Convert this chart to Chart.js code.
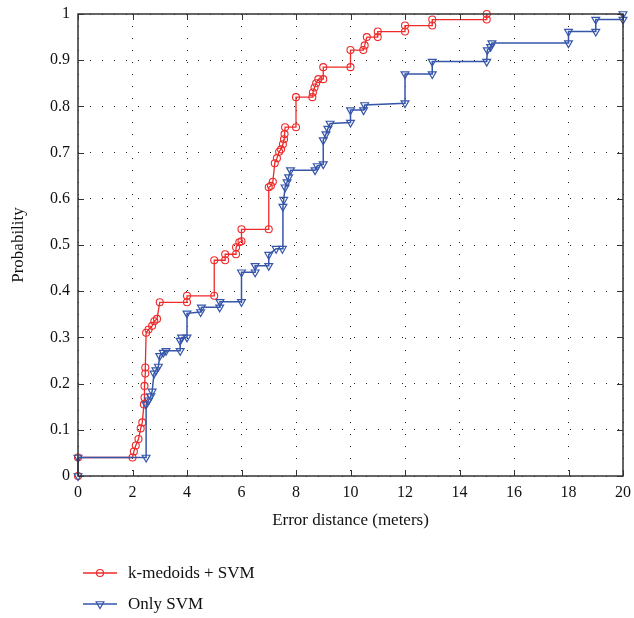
<!DOCTYPE html>
<html lang="en">
<head>
  <meta charset="UTF-8">
  <title>Error distance CDF</title>
  <script src="https://cdn.jsdelivr.net/npm/chart.js"></script>
  <style>
    html, body { margin: 0; padding: 0; background: #fff; }
    #wrap { width: 634px; height: 618px; }
  </style>
</head>
<body>
  <div id="wrap"><canvas id="cdfChart" width="634" height="618"></canvas></div>

  <script>
    // axis ticks
    const xTicks = [0, 2, 4, 6, 8, 10, 12, 14, 16, 18, 20];
    const yTicks = [0, 0.1, 0.2, 0.3, 0.4, 0.5, 0.6, 0.7, 0.8, 0.9, 1];
    const yTickLabels = ['0', '0.1', '0.2', '0.3', '0.4', '0.5', '0.6', '0.7', '0.8', '0.9', '1'];

    const seriesNames = ['k-medoids + SVM', 'Only SVM'];

    // k-medoids + SVM (staircase vertices)
    const kmX = [0, 0, 2, 2.05, 2.12, 2.22, 2.3, 2.36, 2.42, 2.44, 2.44, 2.47, 2.47, 2.5, 2.59, 2.72, 2.8, 2.9, 3,
      4, 4, 5, 5, 5.4, 5.4, 5.8, 5.8, 5.92, 6, 6, 7, 7, 7.08, 7.15, 7.22, 7.3, 7.38, 7.45, 7.52, 7.56, 7.58, 7.6,
      8, 8, 8.6, 8.62, 8.68, 8.74, 8.82, 9, 9, 10, 10, 10.47, 10.52, 10.6, 11, 11, 12, 12, 13, 13, 15, 15];
    const kmY = [0, 0.04, 0.04, 0.053, 0.066, 0.08, 0.103, 0.116, 0.155, 0.17, 0.195, 0.222, 0.235, 0.31, 0.317, 0.325, 0.335, 0.34, 0.376,
      0.376, 0.39, 0.39, 0.467, 0.467, 0.48, 0.48, 0.495, 0.506, 0.508, 0.534, 0.534, 0.625, 0.628, 0.637, 0.677, 0.688, 0.702, 0.707, 0.718, 0.729, 0.74, 0.755,
      0.755, 0.82, 0.82, 0.83, 0.841, 0.85, 0.859, 0.859, 0.885, 0.885, 0.922, 0.922, 0.932, 0.95, 0.95, 0.962, 0.962, 0.975, 0.975, 0.988, 0.988, 1.0];

    // Only SVM
    const svmX = [0, 0, 2.5, 2.5, 2.59, 2.67, 2.72, 2.79, 2.86, 2.95, 3, 3.13, 3.23, 3.75, 3.75, 3.8, 4,
      4, 4.5, 4.53, 5.2, 5.21, 6, 6, 6.5, 6.5, 7, 7, 7.27, 7.5, 7.52, 7.55, 7.6, 7.67, 7.73, 7.8,
      8.7, 8.78, 9, 9, 9.1, 9.17, 9.25, 10, 10, 10.48, 10.52, 12, 12, 13, 13, 15, 15.02, 15.14, 15.19,
      18, 18, 19, 19, 20, 20];
    const svmY = [0, 0.04, 0.04, 0.155, 0.164, 0.173, 0.183, 0.222, 0.229, 0.237, 0.26, 0.267, 0.271, 0.271, 0.293, 0.3, 0.3,
      0.352, 0.355, 0.365, 0.365, 0.377, 0.377, 0.441, 0.441, 0.455, 0.455, 0.479, 0.492, 0.492, 0.583, 0.598, 0.625, 0.636, 0.647, 0.662,
      0.662, 0.671, 0.675, 0.727, 0.74, 0.752, 0.763, 0.765, 0.792, 0.792, 0.803, 0.807, 0.87, 0.87, 0.897, 0.897, 0.922, 0.929, 0.937,
      0.937, 0.962, 0.962, 0.988, 0.988, 1.0];

    const RED = '#ee2a2a';
    const BLUE = '#3656aa';
    const FONT = "'Liberation Serif', 'DejaVu Serif', serif";

    function toPoints(xs, ys) {
      return xs.map((x, i) => ({ x: x, y: ys[i] }));
    }

    // marker drawn by hand for the legend
    function drawMarker(ctx, style, x, y, r) {
      ctx.beginPath();
      if (style === 'circle') {
        ctx.arc(x, y, r, 0, Math.PI * 2);
      } else {
        const h = r * 0.87;
        ctx.moveTo(x - h, y - r / 2);
        ctx.lineTo(x + h, y - r / 2);
        ctx.lineTo(x, y + r);
        ctx.closePath();
      }
      ctx.stroke();
    }

    // box, inward ticks and legend
    const framePlugin = {
      id: 'frame',
      afterDraw(chart) {
        const ctx = chart.ctx;
        const a = chart.chartArea;
        const xs = chart.scales.x, ys = chart.scales.y;
        ctx.save();
        ctx.strokeStyle = '#333';
        ctx.lineWidth = 1.5;
        ctx.strokeRect(a.left, a.top, a.right - a.left, a.bottom - a.top);
        ctx.lineWidth = 1;
        ctx.beginPath();
        xTicks.forEach(v => {
          const px = Math.round(xs.getPixelForValue(v)) + 0.5;
          ctx.moveTo(px, a.bottom); ctx.lineTo(px, a.bottom - 6);
          ctx.moveTo(px, a.top); ctx.lineTo(px, a.top + 6);
        });
        yTicks.forEach(v => {
          const py = Math.round(ys.getPixelForValue(v)) + 0.5;
          ctx.moveTo(a.left, py); ctx.lineTo(a.left + 6, py);
          ctx.moveTo(a.right, py); ctx.lineTo(a.right - 6, py);
        });
        ctx.stroke();

        // legend
        const rows = [573, 604];
        chart.data.datasets.forEach((ds, i) => {
          const y = rows[i];
          ctx.strokeStyle = ds.borderColor;
          ctx.lineWidth = 1.3;
          ctx.beginPath();
          ctx.moveTo(83, y); ctx.lineTo(117, y);
          ctx.stroke();
          ctx.lineWidth = 1.2;
          drawMarker(ctx, ds.pointStyle, 100, y, ds.pointRadius);
          ctx.fillStyle = '#111';
          ctx.font = '17px ' + FONT;
          ctx.textAlign = 'left';
          ctx.textBaseline = 'middle';
          ctx.fillText(ds.label, 128, y + 1);
        });
        ctx.restore();
      }
    };

    const ctx = document.getElementById('cdfChart').getContext('2d');
    const cdfChart = new Chart(ctx, {
      type: 'scatter',
      data: {
        datasets: [
          {
            label: seriesNames[0],
            data: toPoints(kmX, kmY),
            showLine: true,
            borderColor: RED,
            backgroundColor: 'rgba(0,0,0,0)',
            borderWidth: 1.3,
            pointStyle: 'circle',
            pointRadius: 3.5,
            pointBorderWidth: 1.1,
            pointBorderColor: RED,
            pointBackgroundColor: 'rgba(0,0,0,0)',
            clip: false,
            order: 1
          },
          {
            label: seriesNames[1],
            data: toPoints(svmX, svmY),
            showLine: true,
            borderColor: BLUE,
            backgroundColor: 'rgba(0,0,0,0)',
            borderWidth: 1.5,
            pointStyle: 'triangle',
            pointRotation: 180,
            pointRadius: 4.5,
            pointBorderWidth: 1.2,
            pointBorderColor: BLUE,
            pointBackgroundColor: 'rgba(0,0,0,0)',
            clip: false,
            order: 0
          }
        ]
      },
      options: {
        responsive: false,
        animation: false,
        devicePixelRatio: 1,
        layout: { padding: { left: 8, right: 11, top: 14, bottom: 79 } },
        plugins: {
          legend: { display: false },
          tooltip: { enabled: false }
        },
        scales: {
          x: {
            type: 'linear',
            min: 0,
            max: 20,
            afterBuildTicks: s => { s.ticks = xTicks.map(v => ({ value: v })); },
            afterFit: s => { s.height = 63; s.paddingLeft = 0; s.paddingRight = 0; },
            grid: { color: '#222', lineWidth: 1, drawTicks: false },
            border: { display: false, dash: [1, 11] },
            ticks: {
              padding: 7,
              color: '#111',
              font: { family: FONT, size: 16 },
              callback: v => String(v)
            },
            title: {
              display: true,
              text: 'Error distance (meters)',
              color: '#111',
              font: { family: FONT, size: 17 },
              padding: { top: 0, bottom: 8 }
            }
          },
          y: {
            type: 'linear',
            min: 0,
            max: 1,
            afterBuildTicks: s => { s.ticks = yTicks.map(v => ({ value: v })); },
            afterFit: s => { s.width = 70; s.paddingTop = 0; s.paddingBottom = 0; },
            grid: { color: '#222', lineWidth: 1, drawTicks: false },
            border: { display: false, dash: [1, 11] },
            ticks: {
              padding: 8,
              color: '#111',
              font: { family: FONT, size: 16 },
              callback: v => {
                const i = yTicks.findIndex(t => Math.abs(t - v) < 1e-6);
                return i >= 0 ? yTickLabels[i] : '';
              }
            },
            title: {
              display: true,
              text: 'Probability',
              color: '#111',
              font: { family: FONT, size: 17 },
              padding: { top: 0, bottom: 0 }
            }
          }
        }
      },
      plugins: [framePlugin]
    });
  </script>
</body>
</html>
